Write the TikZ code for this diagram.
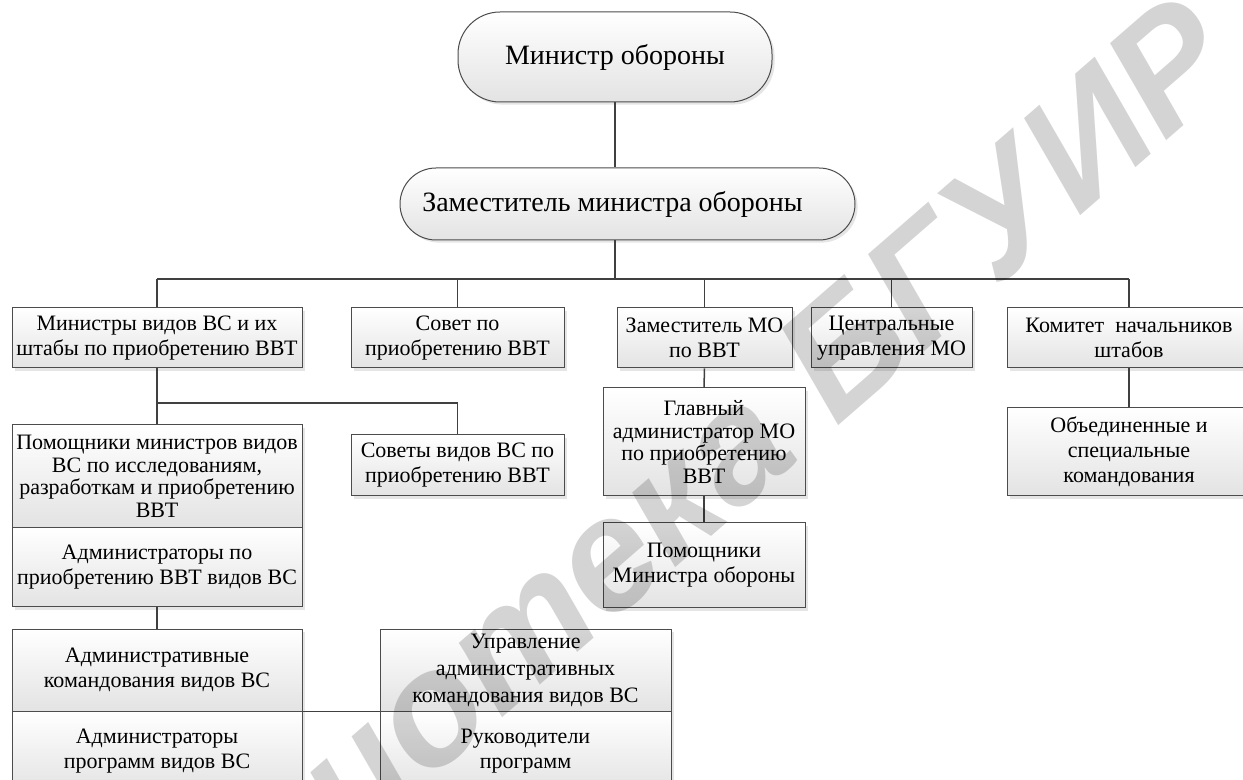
\documentclass[tikz,border=0pt]{standalone}
\usepackage{fontspec}
\setmainfont{Liberation Serif}
\setsansfont{Liberation Sans}
\usetikzlibrary{positioning,calc,shadows}

\tikzset{
	wh/.style 2 args={minimum width=0.5pt*#1, minimum height=0.5pt*#2},
	box/.style={draw=black!70, line width=0.5pt, top color=white, bottom color=black!11,
		drop shadow={shadow xshift=1.3pt, shadow yshift=-1.3pt, fill=black!20},
		align=center, inner sep=0pt, font=\fontsize{11}{12.5}\selectfont},
	pill/.style={box, rounded corners=18pt, font=\fontsize{14}{16}\selectfont},
	tight/.style={font=\fontsize{11}{11.3}\selectfont},
	link/.style={draw=black!75, line width=0.75pt},
}

\begin{document}
\begin{tikzpicture}[x=0.5pt, y=-0.5pt]
		\useasboundingbox (0,0) rectangle (1243,780);
		\clip (0,0) rectangle (1243,780);
		\node[pill, wh={314}{90}, rounded corners=21pt] (mo) at (615,57) {Министр обороны};
		\node[pill, wh={455}{72}] (zam) at (627.5,204) {Заместитель министра обороны\hspace*{15pt}};
		\node[box, wh={290}{60}] (a) at (157,338) {Министры видов ВС и их\\штабы по приобретению ВВТ};
		\node[box, wh={213}{60}] (b) at (457.5,338) {Совет по\\приобретению ВВТ};
		\node[box, wh={175}{60}] (c) at (704.5,338) {Заместитель МО\\по ВВТ};
		\node[box, wh={161}{60}] (d) at (891.5,338) {Центральные\\управления МО};
		\node[box, wh={244}{60}] (e) at (1129,338) {Комитет\ \ начальников\\штабов};
		\node[box, tight, wh={290}{103}] (f) at (157,476.5) {Помощники министров видов\\ВС по исследованиям,\\разработкам и приобретению\\ВВТ};
		\node[box, wh={290}{79}] (g) at (157,567.5) {Администраторы по\\приобретению ВВТ видов ВС};
		\node[box, wh={213}{61}] (h) at (457.5,465.5) {Советы видов ВС по\\приобретению ВВТ};
		\node[box, tight, wh={202}{108}] (i) at (704,442) {Главный\\администратор МО\\по приобретению\\ВВТ};
		\node[box, wh={202}{85}] (j) at (704,565.5) {Помощники\\Министра обороны};
		\node[box, wh={244}{88}] (k) at (1129,452) {Объединенные и\\специальные\\командования};
		\node[box, wh={290}{82}] (l) at (157,670) {Административные\\командования видов ВС};
		\node[box, wh={290}{81}] (m) at (157,751.5) {Администраторы\\программ видов ВС};
		\node[box, wh={291}{82}, font=\fontsize{11}{13.5}\selectfont] (n) at (525.5,670) {Управление\\административных\\командования видов ВС};
		\node[box, wh={291}{81}] (o) at (525.5,751.5) {Руководители\\программ};

		\coordinate (bus) at (0,279);
		\coordinate (sub) at (0,403);
		\draw[link] (mo.south) -- (mo.south |- zam.north);
		\draw[link] (zam.south -| mo.south) -- (bus -| mo.south);
		\draw[link] (bus -| a.north) -- (bus -| e.north);
		\foreach \n in {a,b,c,d,e}
			\draw[link] (\n.north) -- (bus -| \n.north);
		\draw[link] (a.south) -- (sub -| a.south) -| (h.north);
		\draw[link] (sub -| a.south) -- (f.north);
		\draw[link] (c.south) -- (i.north);
		\draw[link] (i.south) -- (j.north);
		\draw[link] (e.south) -- (k.north);
		\draw[link] (g.south) -- (l.north);
		\draw[link] (l.south east) -- (n.south west);

		\begin{scope}[blend mode=multiply]
			\node[rotate=41, anchor=base west, text=black!17,
				font=\sffamily\bfseries\itshape\fontsize{80}{80}\selectfont] (wm) at (40,1120) {Библиотека БГУИР};
		\end{scope}
\end{tikzpicture}
\end{document}
